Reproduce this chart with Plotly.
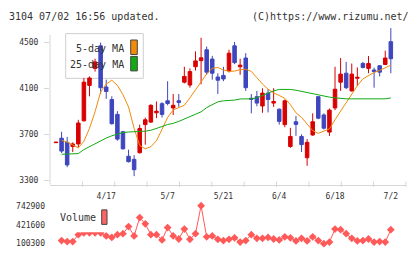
import plotly.graph_objects as go

W, H = 420, 259

# ---------------- data ----------------
tick_labels = ["4/17", "5/7", "5/21", "6/4", "6/18", "7/2"]
tick_index = [9, 20, 30, 40, 50, 60]

opens = [3630, 3669, 3633, 3597, 3619, 3820, 4128, 4276, 4472, 4114,
         4005, 3876, 3725, 3512, 3485, 3543, 3787, 3809, 3890, 3969,
         3994, 3932, 3994, 4156, 4131, 4290, 4343, 4438, 4357, 4201,
         4215, 4254, 4472, 4290, 4366, 4016, 4030, 3949, 4061, 3974,
         3921, 3787, 3597, 3812, 3684, 3499, 3697, 4030, 3871, 3722,
         3932, 4156, 4234, 4080, 4190, 4318, 4276, 4262, 4299, 4310,
         4508]
highs = [3636, 3725, 3680, 3633, 3829, 4192, 4206, 4360, 4500, 4178,
         4033, 3904, 3730, 3569, 3521, 3787, 3848, 3963, 3988, 3982,
         4164, 4053, 4053, 4290, 4276, 4424, 4542, 4466, 4385, 4234,
         4290, 4438, 4506, 4360, 4408, 4053, 4080, 4103, 4095, 4103,
         3927, 4005, 3759, 3862, 3703, 3661, 3885, 4030, 3885, 3927,
         4290, 4366, 4332, 4318, 4284, 4332, 4383, 4282, 4304, 4430,
         4626]
lows = [3628, 3540, 3417, 3549, 3591, 3815, 4033, 4248, 4053, 4011,
        3787, 3647, 3569, 3457, 3339, 3535, 3613, 3801, 3843, 3848,
        3955, 3870, 3941, 4145, 4108, 4257, 4137, 4220, 4178, 4053,
        4164, 4240, 4313, 4220, 4080, 3885, 3946, 3890, 3893, 3941,
        3787, 3764, 3585, 3689, 3549, 3429, 3689, 3834, 3745, 3689,
        3913, 4080, 4095, 4075, 4122, 4276, 4234, 4108, 4206, 4304,
        4234]
closes = [3634, 3557, 3437, 3619, 3801, 4156, 4192, 4332, 4108, 4075,
          3795, 3661, 3577, 3465, 3395, 3753, 3829, 3955, 3904, 3876,
          3971, 3955, 3980, 4206, 4248, 4341, 4368, 4243, 4234, 4173,
          4184, 4408, 4326, 4304, 4108, 4008, 3974, 4061, 4005, 3988,
          3815, 3994, 3684, 3789, 3613, 3633, 3812, 3843, 3756, 3913,
          4095, 4226, 4108, 4226, 4198, 4284, 4318, 4248, 4243, 4366,
          4360]
ma5 = [None, 3650, 3636, 3610, 3585, 3642, 3754, 3899, 4071, 4140,
       4173, 4128, 4047, 3940, 3754, 3605, 3577, 3595, 3647, 3745,
       3850, 3915, 3937, 3955, 4020, 4090, 4155, 4228, 4276, 4284,
       4262, 4250, 4252, 4265, 4268, 4250, 4195, 4140, 4095, 4063,
       4040, 4016, 3960, 3890, 3850, 3790, 3735, 3711, 3734, 3750,
       3830, 3905, 3985, 4060, 4125, 4185, 4215, 4240, 4258, 4280,
       4304]
ma25 = [None, 3529, 3531, 3533, 3535, 3570, 3595, 3625, 3650, 3670,
        3690, 3707, 3718, 3723, 3725, 3726, 3730, 3738, 3752, 3770,
        3788, 3798, 3815, 3835, 3855, 3872, 3898, 3935, 3962, 3985,
        3994, 3994, 4000, 4010, 4011, 4011, 4020, 4040, 4065, 4080,
        4093, 4095, 4093, 4086, 4075, 4064, 4055, 4044, 4035, 4026,
        4020, 4013, 4011, 4011, 4011, 4017, 4013, 4011, 4011, 4011,
        4019]
volume = [None, 152400, 136600, 136600, 253500, 282000, 285000, 285000, 285000, 231300,
          206100, 253500, 269200, 389200, 231300, 542400, 436600, 253500, 253500, 163500,
          373400, 231300, 179200, 348200, 174500, 269200, 742900, 215600, 231300, 174500,
          152400, 174500, 199800, 127100, 152400, 253500, 190300, 190300, 206100, 179200,
          163500, 215600, 199800, 147700, 190300, 147700, 215600, 152400, 100300, 127100,
          348200, 337100, 269200, 190300, 147700, 152400, 179200, 127100, 136600, 127100,
          337100]
price_ticks = [3300, 3700, 4100, 4500]
vol_ticks = [100300, 421600, 742900]

x = list(range(len(opens)))

# ---------------- style ----------------
FONT = "DejaVu Sans Mono"
TXT = "#333333"
AX = "#d6d6d6"
RED = "#d80000"
BLUE = "#3e46be"
ORANGE = "#f08c0a"
GREEN = "#12aa12"
VOL = "#ff5a5a"


def px(xp):
    return xp / W


def py(yp):
    return 1 - yp / H


fig = go.Figure()
fig.add_trace(go.Candlestick(
    x=x, open=opens, high=highs, low=lows, close=closes,
    increasing=dict(line=dict(color=RED, width=1), fillcolor=RED),
    decreasing=dict(line=dict(color=BLUE, width=1), fillcolor=BLUE),
    whiskerwidth=0, hoverinfo="skip", xaxis="x", yaxis="y"))
fig.add_trace(go.Scatter(x=x, y=ma5, mode="lines", line=dict(color=ORANGE, width=1),
                         hoverinfo="skip", xaxis="x", yaxis="y"))
fig.add_trace(go.Scatter(x=x, y=ma25, mode="lines", line=dict(color=GREEN, width=1),
                         hoverinfo="skip", xaxis="x", yaxis="y"))
fig.add_trace(go.Scatter(x=x, y=volume, mode="lines+markers",
                         line=dict(color=VOL, width=1),
                         marker=dict(symbol="diamond", size=6, color=VOL),
                         cliponaxis=False, hoverinfo="skip", xaxis="x2", yaxis="y2"))

xdom = [px(50), px(406)]
xrange = [-1.075, 62.72]

shapes = []
# y axis line
shapes.append(dict(type="line", xref="paper", yref="paper", x0=px(50), x1=px(50),
                   y0=py(32), y1=py(187), line=dict(color=AX, width=1), layer="below"))
# x tick marks
for k in range(1, 12):
    shapes.append(dict(type="line", xref="x domain", yref="paper", x0=k / 11, x1=k / 11,
                       y0=py(184), y1=py(189.5), line=dict(color=AX, width=1)))
# price legend box
shapes.append(dict(type="rect", xref="paper", yref="paper", x0=px(65.7), x1=px(143.3),
                   y0=py(77), y1=py(30.7), fillcolor="white",
                   line=dict(color="#cfcfcf", width=1), layer="below"))
shapes.append(dict(type="rect", xref="paper", yref="paper", x0=px(130.7), x1=px(137.3),
                   y0=py(52.3), y1=py(37.3), fillcolor=ORANGE,
                   line=dict(color="#444444", width=1), layer="below"))
shapes.append(dict(type="rect", xref="paper", yref="paper", x0=px(130.7), x1=px(137.3),
                   y0=py(69.3), y1=py(54.3), fillcolor=GREEN,
                   line=dict(color="#444444", width=1), layer="below"))
# volume legend
shapes.append(dict(type="rect", xref="paper", yref="paper", x0=px(55), x1=px(112),
                   y0=py(236.5), y1=py(210), fillcolor="white",
                   line=dict(width=0), layer="above"))
shapes.append(dict(type="rect", xref="paper", yref="paper", x0=px(101.7), x1=px(107),
                   y0=py(228.3), y1=py(213.3), fillcolor="#ff6464",
                   line=dict(color="#444444", width=1), layer="above"))

ann_font = dict(family=FONT, size=10, color=TXT)
annotations = [
    dict(text="3104 07/02 16:56 updated.", x=px(7), y=py(12.5), xanchor="left",
         yanchor="middle", showarrow=False, font=ann_font, xref="paper", yref="paper"),
    dict(text="(C)https://www.rizumu.net/", x=px(411), y=py(12.5), xanchor="right",
         yanchor="middle", showarrow=False, font=ann_font, xref="paper", yref="paper"),
    dict(text="5-day MA", x=px(125.5), y=py(46.5), xanchor="right", yanchor="middle",
         showarrow=False, font=ann_font, xref="paper", yref="paper"),
    dict(text="25-day MA", x=px(125.5), y=py(63), xanchor="right", yanchor="middle",
         showarrow=False, font=ann_font, xref="paper", yref="paper"),
    dict(text="Volume", x=px(58), y=py(221.5), xanchor="left", yanchor="middle",
         showarrow=False, font=ann_font, xref="paper", yref="paper"),
]

tick_font = dict(family=FONT, size=8, color=TXT)
fig.update_layout(
    width=W, height=H, margin=dict(l=0, r=0, t=0, b=0),
    paper_bgcolor="white", plot_bgcolor="white", showlegend=False,
    font=dict(family=FONT, color=TXT),
    xaxis=dict(domain=xdom, range=xrange, anchor="y", tickvals=tick_index,
               ticktext=tick_labels, ticks="", showline=True, linecolor=AX, linewidth=1,
               showgrid=False, zeroline=False, tickfont=tick_font,
               rangeslider=dict(visible=False), ticklabelstandoff=4, fixedrange=True),
    yaxis=dict(domain=[py(187), py(22)], range=[3266.4, 4651], anchor="x",
               tickvals=price_ticks, ticks="outside", ticklen=5, tickcolor=AX,
               showline=False, showgrid=False, zeroline=False, tickfont=tick_font,
               ticklabelstandoff=4, fixedrange=True),
    xaxis2=dict(domain=xdom, range=xrange, anchor="y2", visible=False, fixedrange=True),
    yaxis2=dict(domain=[py(248.3), py(209)], range=[100300, 742900], anchor="x2",
                tickvals=vol_ticks, ticktext=[str(v) for v in vol_ticks], ticks="",
                showline=False, showgrid=False, zeroline=False, tickfont=tick_font,
                ticklabelstandoff=4, fixedrange=True),
    shapes=shapes, annotations=annotations,
    boxgap=0.1,
)

fig.write_html("out.html")
